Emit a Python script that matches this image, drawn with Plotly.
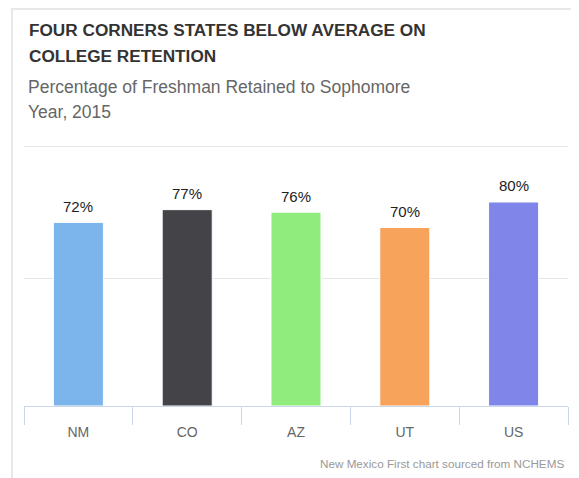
import plotly.graph_objects as go

categories = ["NM", "CO", "AZ", "UT", "US"]
values = [72, 77, 76, 70, 80]
labels = ["72%", "77%", "76%", "70%", "80%"]
colors = ["#7cb5ec", "#434348", "#90ed7d", "#f7a35c", "#8085e9"]

title_lines = ["FOUR CORNERS STATES BELOW AVERAGE ON", "COLLEGE RETENTION"]
subtitle_lines = ["Percentage of Freshman Retained to Sophomore", "Year, 2015"]
credit = "New Mexico First chart sourced from NCHEMS"

# page has an 8px body margin, so figure coords = screen coords - 8
W, H = 571, 470
L, R, T, B = 16, 11, 137, 72
PW, PH = W - L - R, H - T - B

def px(x):
    return (x - L) / PW

def py(y):
    return (H - B - y) / PH

FONT = "Arial, Liberation Sans, Helvetica, sans-serif"

fig = go.Figure()
fig.add_trace(go.Bar(
    x=categories, y=values,
    marker=dict(color=colors, line=dict(color="#ffffff", width=1)),
    hoverinfo="skip",
))

annotations = []
for c, v, t in zip(categories, values, labels):
    annotations.append(dict(x=c, y=v, xref="x", yref="y", text=t, showarrow=False,
                            yanchor="middle", yshift=16,
                            font=dict(size=15, color="#222222", family=FONT)))

for i, line in enumerate(title_lines):
    annotations.append(dict(x=px(19), y=py(22 + 26 * i), xref="paper", yref="paper",
                            xanchor="left", yanchor="middle", text="<b>" + line + "</b>",
                            showarrow=False, font=dict(size=17.2, color="#333333", family=FONT)))
for i, line in enumerate(subtitle_lines):
    annotations.append(dict(x=px(18), y=py(79 + 25 * i), xref="paper", yref="paper",
                            xanchor="left", yanchor="middle", text=line,
                            showarrow=False, font=dict(size=17.5, color="#666666", family=FONT)))
annotations.append(dict(x=px(558), y=py(455), xref="paper", yref="paper",
                        xanchor="right", yanchor="middle", text=credit, showarrow=False,
                        font=dict(size=11.7, color="#999999", family=FONT)))

fig.update_layout(
    width=W, height=H,
    margin=dict(l=L, r=R, t=T, b=B),
    paper_bgcolor="#ffffff", plot_bgcolor="#ffffff",
    showlegend=False,
    bargap=0.54,
    annotations=annotations,
    shapes=[dict(type="rect", xref="paper", yref="paper",
                 x0=px(4), x1=px(620), y0=py(1), y1=py(560),
                 line=dict(color="#e8e8e8", width=2), layer="below")],
    xaxis=dict(type="category", showline=True, linecolor="#ccd6eb", linewidth=1,
               ticks="outside", tickson="boundaries", ticklen=18, tickcolor="#ccd6eb",
               tickwidth=1, showgrid=False, ticklabelstandoff=13,
               tickfont=dict(size=14, color="#666666", family=FONT)),
    yaxis=dict(range=[0, 102.35], tickvals=[0, 50, 101.7], showticklabels=False,
               gridcolor="#e6e6e6", gridwidth=1, zeroline=False, showline=False),
)

fig.write_html("out.html")
